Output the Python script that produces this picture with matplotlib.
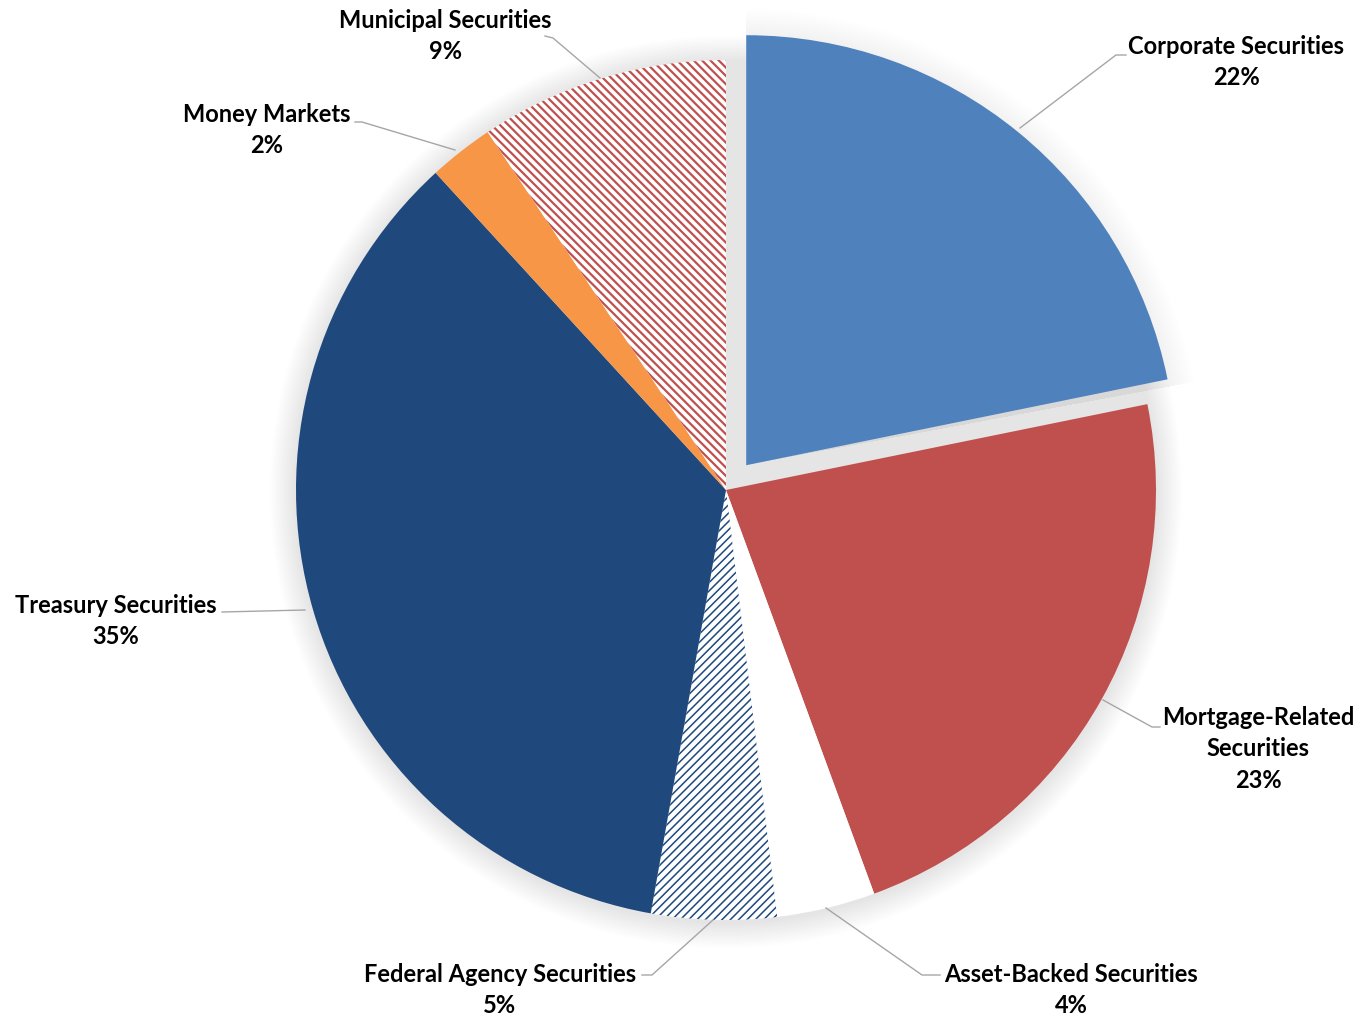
import matplotlib.pyplot as plt
from matplotlib.patches import Circle, Wedge

plt.rcParams['font.family'] = ['Lato', 'DejaVu Sans']
plt.rcParams['hatch.linewidth'] = 1.5

# share of holdings, clockwise from 12 o'clock
categories = ['Corporate Securities', 'Mortgage-Related\nSecurities', 'Asset-Backed Securities',
              'Federal Agency Securities', 'Treasury Securities', 'Money Markets',
              'Municipal Securities']
shares = [21.8, 22.6, 3.7, 4.7, 35.4, 2.45, 9.35]
face_colors = ['#4f81bd', '#c0504d', 'white', 'white', '#1f497d', '#f79646', 'white']
edge_colors = ['#4f81bd', '#c0504d', 'white', '#1f497d', '#1f497d', '#f79646', '#c0504d']
hatches = [None, None, None, '////', None, None, '\\\\\\\\']
hatch_widths = [None, None, None, 1.1, None, None, 1.6]
explode = [32, 0, 0, 0, 0, 0, 0]

# label anchor (text centre) and leader line points, in pixels from top-left
label_pos = [(1236, 62), (1258, 749), (1071, 990), (500, 990), (116, 621), (267, 130), (445, 36)]
leaders = [
    [(1020, 128), (1116, 55), (1126, 55)],
    [(1103, 700), (1152, 727), (1160, 727)],
    [(826, 908), (922, 975), (940, 975)],
    [(713, 920), (652, 975), (642, 975)],
    [(305, 610), (222, 612)],
    [(455, 150), (362, 122), (355, 122)],
    [(600, 78), (553, 38), (545, 36)],
]

W, H = 1362, 1018
fig = plt.figure(figsize=(13.62, 10.18), dpi=100)
ax = fig.add_axes([0, 0, 1, 1])

cx, cy, R = 726, H - 490, 430

# soft shadow around the pie
for k in range(26, 0, -2):
    ax.add_patch(Circle((cx, cy - 2), R + k, color='black', alpha=0.008, lw=0, zorder=0))
    ax.add_patch(Wedge((cx + 20, cy + 25), R + k, 10.5, 90, color='black', alpha=0.005, lw=0, zorder=0))

wedges, _ = ax.pie(shares, explode=explode, startangle=90, counterclock=False,
                   center=(cx, cy), radius=R, colors=face_colors,
                   wedgeprops=dict(linewidth=0), frame=True)
for w, ec, h, hw in zip(wedges, edge_colors, hatches, hatch_widths):
    w.set_edgecolor(ec)
    w.set_zorder(2)
    if h:
        w.set_hatch(h)
        w.set_linewidth(0)
        if hasattr(w, 'set_hatch_linewidth'):
            w.set_hatch_linewidth(hw)
ax.set_xlim(0, W)
ax.set_ylim(0, H)
ax.set_aspect('equal')
ax.axis('off')

for name, val, (tx, ty), pts in zip(categories, shares, label_pos, leaders):
    ax.text(tx, H - ty, f'{name}\n{round(val):.0f}%', ha='center', va='center',
            fontsize=17, fontweight='bold', color='black', linespacing=1.45, zorder=5)
    ax.plot([p[0] for p in pts], [H - p[1] for p in pts], color='#a6a6a6', lw=1, zorder=4)

fig.savefig('out.png', dpi=100)
